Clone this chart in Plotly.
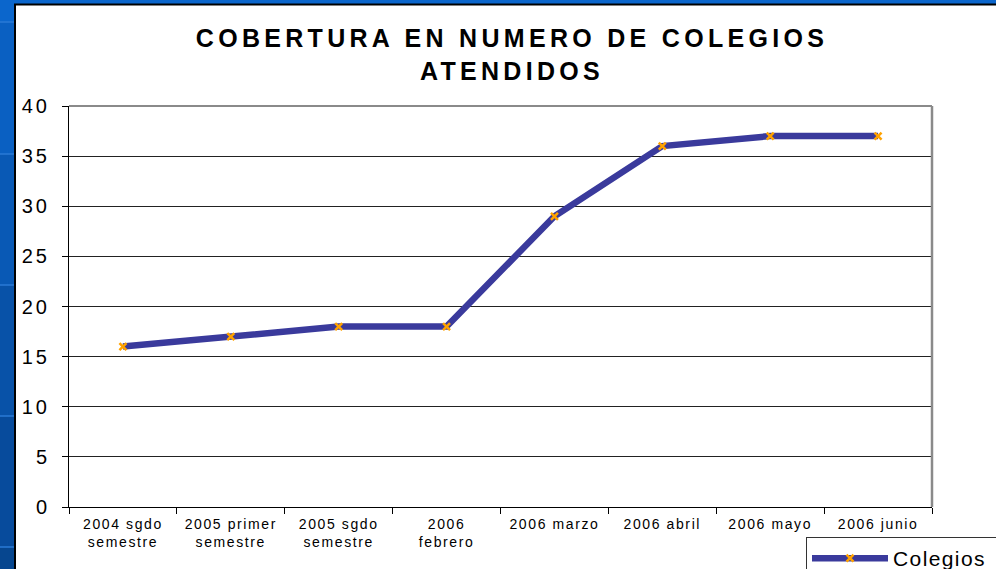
import plotly.graph_objects as go

categorias = ["2004 sgdo<br>semestre", "2005 primer<br>semestre", "2005 sgdo<br>semestre",
              "2006<br>febrero", "2006 marzo", "2006 abril", "2006 mayo", "2006 junio"]
colegios = [16, 17, 18, 18, 29, 36, 37, 37]
ticks_y = [0, 5, 10, 15, 20, 25, 30, 35, 40]

# area de trazado en pixeles: x 69..932, y 106..507
L, R, T, B = 69, 64, 106, 62
W, H = 996, 569
pw, ph = W - L - R, H - T - B


def px(x):
    return (x - L) / pw


def py(y):
    return (H - B - y) / ph


fig = go.Figure()
fig.add_trace(go.Scatter(
    x=categorias, y=colegios, name="Colegios", mode="lines+markers",
    line=dict(color="#3a3a9c", width=6.5),
    marker=dict(symbol="x-thin", size=7, color="#ffa200",
                line=dict(color="#ffa200", width=2.5)),
))

# fondo azul de la diapositiva a la izquierda, en franjas
cortes = [0, 22, 154, 285, 416, 547, H]
colores = ["#0b66cc", "#0a60c2", "#0959b5", "#0852a8", "#074b9c", "#06468f"]
for i, c in enumerate(colores):
    fig.add_shape(type="rect", xref="paper", yref="paper",
                  x0=px(0), x1=px(14), y0=py(cortes[i + 1]), y1=py(cortes[i]),
                  fillcolor=c, line_width=0, layer="above")
for yy in cortes[1:-1]:
    fig.add_shape(type="line", xref="paper", yref="paper",
                  x0=px(0), x1=px(14), y0=py(yy), y1=py(yy),
                  line=dict(color="#2a7ad6", width=1.5), layer="above")
fig.add_shape(type="rect", xref="paper", yref="paper",
              x0=px(0), x1=px(W), y0=py(4), y1=py(0),
              fillcolor="#0b66cc", line_width=0, layer="above")
# borde negro del grafico
fig.add_shape(type="line", xref="paper", yref="paper",
              x0=px(15), x1=px(15), y0=py(H), y1=py(4),
              line=dict(color="black", width=2), layer="above")
fig.add_shape(type="line", xref="paper", yref="paper",
              x0=px(14), x1=px(W), y0=py(4.5), y1=py(4.5),
              line=dict(color="black", width=2), layer="above")
# borde gris del area de trazado (arriba y derecha)
fig.add_shape(type="line", xref="paper", yref="paper",
              x0=0, x1=1, y0=1, y1=1, line=dict(color="#8a8a8a", width=2))
fig.add_shape(type="line", xref="paper", yref="paper",
              x0=1, x1=1, y0=0, y1=1, line=dict(color="#8a8a8a", width=2.5))

fig.update_layout(
    width=W, height=H,
    margin=dict(l=L, r=R, t=T, b=B, autoexpand=False),
    paper_bgcolor="white", plot_bgcolor="white",
    font=dict(family="Liberation Sans, Arial", color="black"),
    title=dict(text="<b>COBERTURA EN NUMERO DE COLEGIOS<br>ATENDIDOS</b>",
               x=px(512), xref="paper", xanchor="center",
               y=1 - 47 / H, yanchor="middle",
               font=dict(size=25, color="black")),
    showlegend=True,
    legend=dict(x=px(806), y=py(537), xanchor="left", yanchor="top",
                orientation="h", entrywidth=110, entrywidthmode="pixels",
                bgcolor="white", bordercolor="#333333", borderwidth=1,
                font=dict(size=21), itemwidth=76),
    xaxis=dict(range=[-0.5, len(categorias) - 0.5], showline=True, linecolor="black",
               linewidth=1, automargin=False,
               ticks="outside", tickson="boundaries", ticklen=6, tickcolor="black",
               showgrid=False, tickfont=dict(size=14), ticklabelstandoff=4,
               fixedrange=True),
    yaxis=dict(range=[0, 40], tickvals=ticks_y, showline=True, linecolor="black",
               linewidth=1, ticks="outside", ticklen=6, tickcolor="black",
               automargin=False, showgrid=True, gridcolor="#222222", gridwidth=1,
               zeroline=False, tickfont=dict(size=20), ticklabelstandoff=8),
)

# texto algo estirado como en el original; sin margen de pagina
post = """
document.body.style.margin = '0';
var gd = document.getElementById('{plot_id}');
function sp(sel, v) { gd.querySelectorAll(sel).forEach(function (e) { e.style.letterSpacing = v; }); }
sp('.gtitle', '4.3px');
sp('.xtick text', '1.6px');
sp('.ytick text', '3px');
sp('.legendtext', '1.4px');
"""

fig.write_html("out.html", post_script=post, config={"displayModeBar": False})
